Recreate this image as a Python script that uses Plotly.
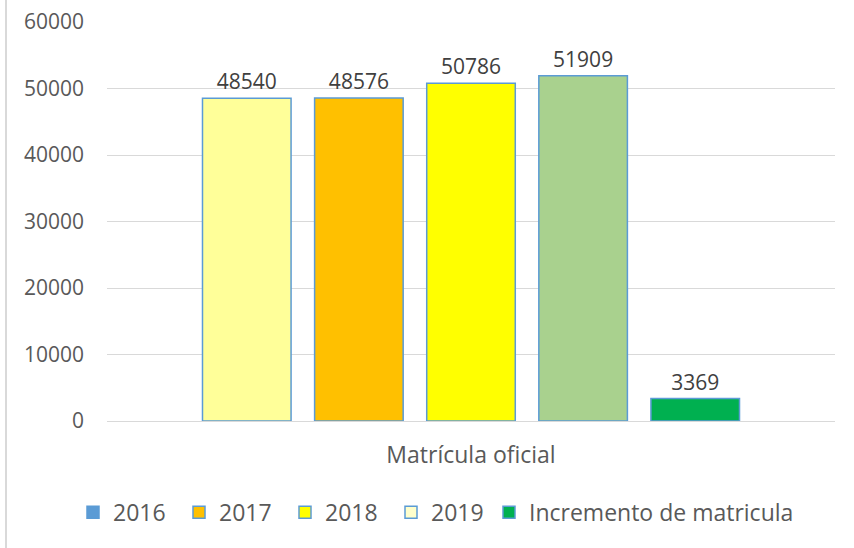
import plotly.graph_objects as go

categories = ["Matrícula oficial"]
series_names = ["2016", "2017", "2018", "2019", "Incremento de matricula"]
values = [48540, 48576, 50786, 51909, 3369]
bar_colors = ["#FFFF99", "#FFC000", "#FFFF00", "#A9D18E", "#00B050"]
legend_colors = ["#5B9BD5", "#FFC000", "#FFFF00", "#FFFFCC", "#00B050"]
y_ticks = [0, 10000, 20000, 30000, 40000, 50000, 60000]
y_tick_labels = [str(v) for v in y_ticks]

FONT = "Open Sans"
TXT = "#595959"
BORDER = "#5B9BD5"
FS = 21

fig = go.Figure()
for name, v, c in zip(series_names, values, bar_colors):
    fig.add_trace(go.Bar(
        x=categories, y=[v], name=name, showlegend=False,
        marker=dict(color=c, line=dict(color=BORDER, width=1.5)),
        text=[str(v)], textposition="outside", cliponaxis=False, constraintext="none",
        textfont=dict(family=FONT, size=FS, color="#404040"),
    ))
for i, (name, c) in enumerate(zip(series_names, legend_colors)):
    fig.add_trace(go.Bar(
        x=[None], y=[None], name=name, showlegend=True, xaxis="x2", yaxis="y2",
        legend="legend" if i < 4 else "legend2",
        marker=dict(color=c, line=dict(color=BORDER if name != "2016" else c, width=1.5)),
    ))

leg_common = dict(orientation="h", y=-0.175, yanchor="top", xanchor="left",
                  font=dict(family=FONT, size=23, color=TXT), itemwidth=30,
                  traceorder="normal", bgcolor="rgba(0,0,0,0)")

fig.update_layout(
    width=854, height=548,
    margin=dict(l=107, r=19, t=22, b=127, autoexpand=False),
    paper_bgcolor="white", plot_bgcolor="white",
    barmode="group", bargap=0.23, bargroupgap=0.21,
    font=dict(family=FONT, size=FS, color=TXT),
    showlegend=True,
    legend=dict(leg_common, x=(73 - 107) / 728, entrywidth=61, entrywidthmode="pixels"),
    legend2=dict(leg_common, x=(489 - 107) / 728),
    xaxis=dict(showgrid=False, showline=False, ticks="", ticklabelstandoff=18, automargin=False,
               tickfont=dict(family=FONT, size=23, color=TXT)),
    yaxis=dict(range=[0, 60000], tickvals=y_ticks, ticktext=y_tick_labels, showgrid=True,
               gridcolor="#D9D9D9", gridwidth=1, zeroline=True, zerolinecolor="#D9D9D9",
               zerolinewidth=1, showline=False, ticks="", ticklabelstandoff=22, automargin=False,
               tickfont=dict(family=FONT, size=FS, color=TXT)),
    xaxis2=dict(overlaying="x", visible=False),
    yaxis2=dict(overlaying="y", visible=False),
    shapes=[dict(type="line", xref="paper", yref="paper",
                 x0=(6 - 107) / 728, x1=(6 - 107) / 728,
                 y0=-127 / 399, y1=(548 - 127) / 399,
                 line=dict(color="#D9D9D9", width=2))],
)
fig.write_html("out.html", config={"displayModeBar": False},
               post_script="document.body.style.margin='0';")
